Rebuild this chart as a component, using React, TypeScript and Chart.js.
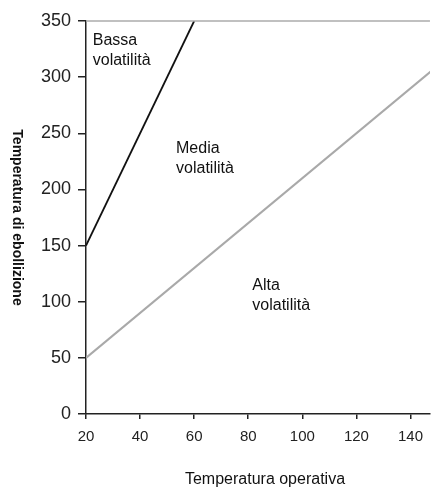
import React, { useEffect, useRef } from 'react';
import { Chart, registerables } from 'chart.js';

Chart.register(...registerables);

// ---- data ----
const xTickValues = [20, 40, 60, 80, 100, 120, 140];
const yTickValues = [0, 50, 100, 150, 200, 250, 300, 350];
const xRange = [20, 147.2];
const yRange = [0, 350];

// boundary between "Bassa" and "Media" volatilità
const lowBoundaryX = [20, 60];
const lowBoundaryY = [150, 350];
// boundary between "Media" and "Alta" volatilità
const highBoundaryX = [20, 150];
const highBoundaryY = [50, 310];

const regionNames = ['Bassa', 'Media', 'Alta'];
const regionWord = 'volatilità';
const regionAnchorX = [22.5, 53.3, 81.5];
const regionAnchorY = [329, 232.2, 110.4];

const xTitle = 'Temperatura operativa';
const yTitle = 'Temperatura di ebollizione';

const FONT = '"Liberation Sans", Arial, Helvetica, sans-serif';

const overlayPlugin = {
  id: 'overlay',
  afterDraw(chart: any) {
    const { ctx, chartArea, scales } = chart;
    const xs = scales.x;
    const ys = scales.y;
    ctx.save();
    // top frame line
    ctx.strokeStyle = '#ababab';
    ctx.lineWidth = 1.6;
    ctx.beginPath();
    ctx.moveTo(chartArea.left, chartArea.top);
    ctx.lineTo(chartArea.right, chartArea.top);
    ctx.stroke();

    // region labels
    ctx.fillStyle = '#111';
    ctx.font = `16px ${FONT}`;
    ctx.textAlign = 'left';
    ctx.textBaseline = 'alphabetic';
    regionNames.forEach((name, i) => {
      const px = xs.getPixelForValue(regionAnchorX[i]);
      const py = ys.getPixelForValue(regionAnchorY[i]);
      ctx.fillText(name, px, py);
      ctx.fillText(regionWord, px, py + 20);
    });

    // x title
    ctx.font = `16px ${FONT}`;
    ctx.textAlign = 'center';
    ctx.fillText(xTitle, 265, 484);

    // y title (rotated clockwise)
    ctx.translate(17, (chartArea.top + chartArea.bottom) / 2);
    ctx.rotate(Math.PI / 2);
    ctx.font = `bold 14px ${FONT}`;
    ctx.textAlign = 'center';
    ctx.textBaseline = 'middle';
    ctx.fillText(yTitle, 0, 0);
    ctx.restore();
  },
};

export default function App() {
  const ref = useRef<HTMLCanvasElement | null>(null);

  useEffect(() => {
    if (!ref.current) return;
    Chart.defaults.font.family = FONT;
    const chart = new Chart(ref.current, {
      type: 'scatter',
      data: {
        datasets: [
          {
            data: lowBoundaryX.map((x, i) => ({ x, y: lowBoundaryY[i] })),
            showLine: true,
            borderColor: '#111',
            borderWidth: 1.8,
            pointRadius: 0,
          },
          {
            data: highBoundaryX.map((x, i) => ({ x, y: highBoundaryY[i] })),
            showLine: true,
            borderColor: '#a9a9a9',
            borderWidth: 2,
            pointRadius: 0,
          },
        ],
      },
      options: {
        animation: false,
        responsive: false,
        events: [],
        layout: { padding: { top: 21, right: 0, left: 0, bottom: 0 } },
        plugins: { legend: { display: false }, tooltip: { enabled: false } },
        scales: {
          x: {
            type: 'linear',
            min: xRange[0],
            max: xRange[1],
            afterBuildTicks: (axis: any) => {
              axis.ticks = xTickValues.map((v) => ({ value: v }));
            },
            afterFit: (axis: any) => {
              axis.height = 76;
            },
            grid: {
              drawOnChartArea: false,
              drawTicks: true,
              tickLength: 5,
              color: '#222',
              lineWidth: 1.5,
            },
            border: { display: true, color: '#222', width: 1.5 },
            ticks: {
              color: '#222',
              font: { size: 15 },
              padding: 9,
              maxRotation: 0,
              autoSkip: false,
            },
          },
          y: {
            type: 'linear',
            min: yRange[0],
            max: yRange[1],
            afterBuildTicks: (axis: any) => {
              axis.ticks = yTickValues.map((v) => ({ value: v }));
            },
            afterFit: (axis: any) => {
              axis.width = 86;
            },
            grid: {
              drawOnChartArea: false,
              drawTicks: true,
              tickLength: 8,
              color: '#222',
              lineWidth: 1.5,
            },
            border: { display: true, color: '#222', width: 1.5 },
            ticks: {
              color: '#222',
              font: { size: 18 },
              padding: 7,
              autoSkip: false,
            },
          },
        },
      },
      plugins: [overlayPlugin],
    } as any);
    return () => chart.destroy();
  }, []);

  return (
    <div style={{ position: 'fixed', left: 0, top: 0, width: 432, height: 490, overflow: 'hidden', background: '#fff' }}>
      <canvas ref={ref} width={432} height={490} style={{ display: 'block' }} />
    </div>
  );
}
